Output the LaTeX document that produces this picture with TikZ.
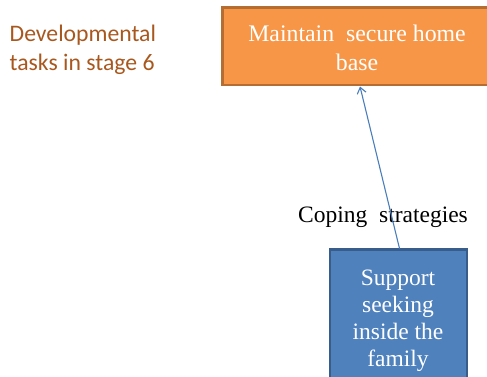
\documentclass[tikz,border=0pt]{standalone}
\usepackage{fontspec}
\setmainfont{Liberation Serif}
\newfontfamily\calib{Carlito}
\usetikzlibrary{arrows.meta}
\definecolor{orfill}{HTML}{F79646}
\definecolor{ordraw}{HTML}{B66D31}
\definecolor{blfill}{HTML}{4F81BD}
\definecolor{bldraw}{HTML}{385D8A}
\definecolor{arrowblue}{HTML}{4A7EBB}
\definecolor{tasktext}{HTML}{A8581E}
\tikzset{
  orbox/.style={draw=ordraw, fill=orfill, line width=2.4pt},
  blbox/.style={draw=bldraw, fill=blfill, line width=2.4pt},
  boxtext/.style={text=white, align=center, font=\fontsize{23.8}{29}\selectfont, inner sep=0pt},
  conn/.style={draw=arrowblue, line width=1.1pt, -{Straight Barb[length=6pt,width=9pt]}}
}
\begin{document}
\begin{tikzpicture}[x=1pt,y=-1pt]
\useasboundingbox (0,0) rectangle (487,376);
\begin{scope}
\clip (0,0) rectangle (487,376);
\draw[orbox] (222.5,7.5) rectangle (500,85);
\draw[blbox] (330,249.5) rectangle (467,400);
\end{scope}
\coordinate (ortop) at (360,86.5);
\coordinate (blbot) at (399.5,248.5);
\node[boxtext] (maint) at (357,47.5) {Maintain\ \ secure home\\base};
\node[boxtext, font=\fontsize{23.5}{27}\selectfont] (supp) at (398,320.5) {Support\\seeking\\inside\ the\\family};
\node[text=tasktext, align=left, anchor=west, font=\calib\fontsize{23.7}{29}\selectfont, inner sep=0pt] (tasks) at (9.5,49.5) {Developmental\\tasks in stage 6};
\node[font=\fontsize{23.5}{26}\selectfont, inner sep=0pt] (coping) at (383,217) {Coping\ \ strategies};
\draw[conn] (blbot) -- (ortop);
\end{tikzpicture}
\end{document}
